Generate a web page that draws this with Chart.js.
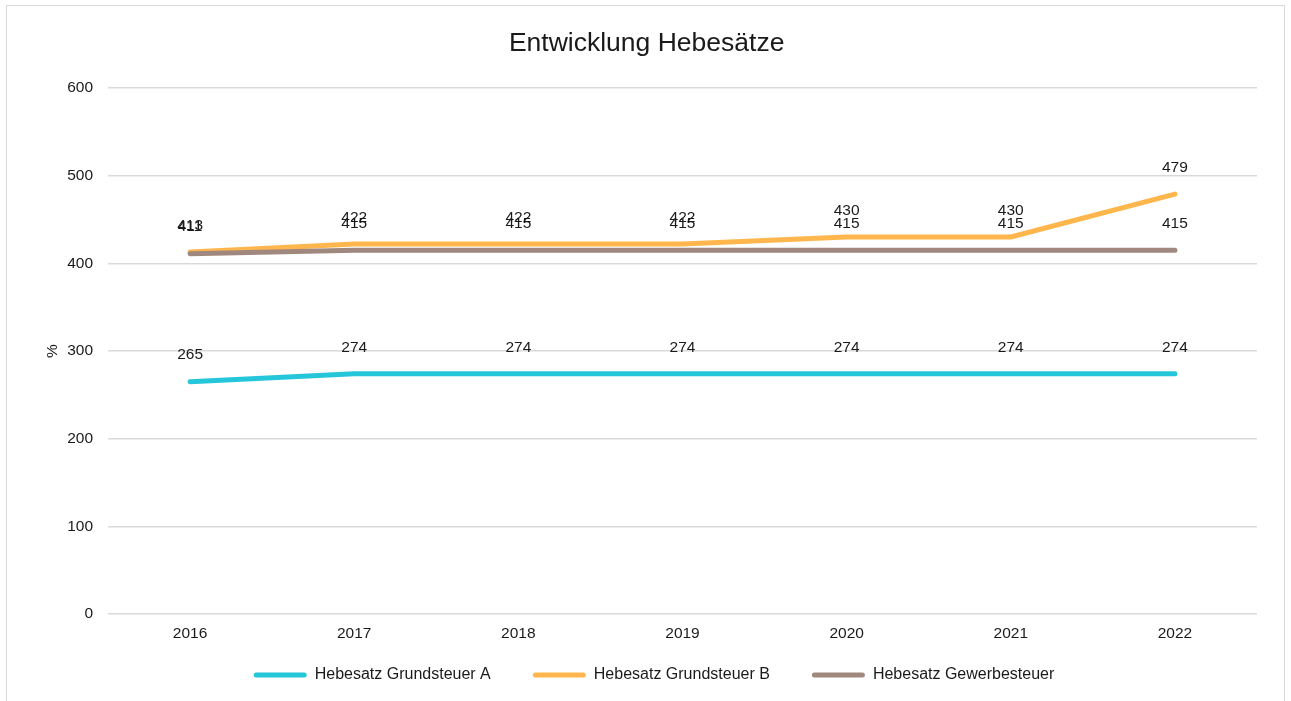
<!DOCTYPE html>
<html>
<head>
<meta charset="utf-8">
<script src="https://cdn.jsdelivr.net/npm/chart.js@4"></script>
<style>
  html, body { margin: 0; padding: 0; background: #fff; }
  #frame { position: absolute; left: 6px; top: 5px; width: 1279px; height: 720px; border: 1px solid #d9d9d9; box-sizing: border-box; }
  #wrap { position: absolute; left: 0; top: 0; width: 1291px; height: 701px; }
</style>
</head>
<body>
<div id="frame"></div>
<div id="wrap"><canvas id="mainChart"></canvas></div>
<script>
const years = ['2016', '2017', '2018', '2019', '2020', '2021', '2022'];
const grundsteuerA = [265, 274, 274, 274, 274, 274, 274];
const grundsteuerB = [413, 422, 422, 422, 430, 430, 479];
const gewerbesteuer = [411, 415, 415, 415, 415, 415, 415];
const yTicks = [0, 100, 200, 300, 400, 500, 600];

const FONT = '"Liberation Sans", Arial, sans-serif';
const TEXT = '#1a1a1a';

// value labels above each point
const valueLabels = {
    id: 'valueLabels',
    afterDatasetsDraw(chart) {
        const ctx = chart.ctx;
        ctx.save();
        ctx.font = '15.5px ' + FONT;
        ctx.fillStyle = TEXT;
        ctx.textAlign = 'center';
        ctx.textBaseline = 'middle';
        chart.data.datasets.forEach((ds, i) => {
            const meta = chart.getDatasetMeta(i);
            meta.data.forEach((pt, j) => {
                ctx.fillText(String(ds.data[j]), pt.x, pt.y - 26.5);
            });
        });
        ctx.restore();
    }
};

const ctx = document.getElementById('mainChart').getContext('2d');
new Chart(ctx, {
    type: 'line',
    data: {
        labels: years,
        datasets: [
            { label: 'Hebesatz Grundsteuer A', data: grundsteuerA, borderColor: '#26c6da', backgroundColor: '#26c6da', order: 2 },
            { label: 'Hebesatz Grundsteuer B', data: grundsteuerB, borderColor: '#ffb74d', backgroundColor: '#ffb74d', order: 1 },
            { label: 'Hebesatz Gewerbesteuer', data: gewerbesteuer, borderColor: '#a1887f', backgroundColor: '#a1887f', order: 0 }
        ]
    },
    options: {
        responsive: true,
        maintainAspectRatio: false,
        animation: false,
        elements: {
            line: { borderWidth: 5, tension: 0, borderCapStyle: 'round', borderJoinStyle: 'round' },
            point: { radius: 0, hoverRadius: 0 }
        },
        layout: { padding: { left: 51, right: 34, top: 0, bottom: 8 } },
        plugins: {
            tooltip: { enabled: false },
            title: {
                display: true,
                // trailing spaces nudge the centred title a little to the left
                text: 'Entwicklung Hebesätze\u00a0\u00a0',
                color: TEXT,
                font: { family: FONT, size: 26.5, weight: 'normal' },
                padding: { top: 28, bottom: 28.2 }
            },
            legend: {
                position: 'bottom',
                labels: {
                    color: TEXT,
                    font: { family: FONT, size: 16 },
                    boxWidth: 53,
                    boxHeight: 5,
                    padding: 42,
                    useBorderRadius: true,
                    borderRadius: 2.5,
                    sort: (a, b) => a.datasetIndex - b.datasetIndex,
                    generateLabels: (chart) => Chart.defaults.plugins.legend.labels.generateLabels(chart)
                        .map(l => Object.assign(l, { lineWidth: 0 }))
                }
            }
        },
        scales: {
            x: {
                offset: true,
                grid: { display: false, drawTicks: false },
                border: { display: false },
                ticks: { color: TEXT, font: { family: FONT, size: 15.5 }, padding: 10 },
                afterFit: (scale) => {
                    scale.height = 11;
                    // labels reach below this short box, so don't clip them to it
                    scale._computeLabelArea = () => undefined;
                }
            },
            y: {
                min: 0,
                max: 600,
                afterBuildTicks: (scale) => { scale.ticks = yTicks.map(v => ({ value: v })); },
                grid: { color: '#d9d9d9', lineWidth: 1.5, drawTicks: false },
                border: { display: false },
                ticks: { color: TEXT, font: { family: FONT, size: 15.5 }, padding: 15 },
                title: {
                    display: true,
                    text: '%',
                    color: TEXT,
                    font: { family: FONT, size: 15.5 },
                    padding: { top: -8, bottom: 0 }
                },
                afterFit: (scale) => {
                    scale.width = 57;
                    scale._computeLabelArea = () => undefined;
                }
            }
        }
    },
    plugins: [valueLabels]
});
</script>
</body>
</html>
